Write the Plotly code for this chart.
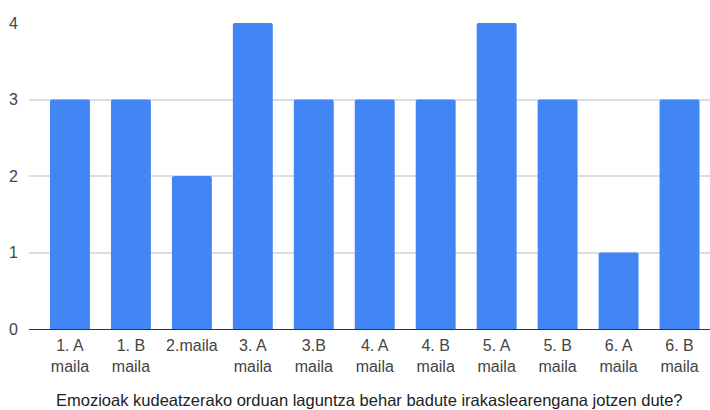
import plotly.graph_objects as go

# Class groups and counts of students
categories = ["1. A<br>maila", "1. B<br>maila", "2.maila", "3. A<br>maila", "3.B<br>maila",
              "4. A<br>maila", "4. B<br>maila", "5. A<br>maila", "5. B<br>maila",
              "6. A<br>maila", "6. B<br>maila"]
values = [3, 3, 2, 4, 3, 3, 3, 4, 3, 1, 3]
y_ticks = [0, 1, 2, 3, 4]
x_title = "Emozioak kudeatzerako orduan laguntza behar badute irakaslearengana jotzen dute?"

FONT = "Liberation Sans, Arial, sans-serif"

fig = go.Figure(
    go.Bar(
        x=list(range(len(categories))),
        y=values,
        marker=dict(color="#4285F4", line=dict(width=0)),
        width=0.655,
        hoverinfo="skip",
    )
)

fig.update_layout(
    width=710,
    height=410,
    margin=dict(l=29, r=0, t=23, b=81),
    paper_bgcolor="white",
    plot_bgcolor="white",
    showlegend=False,
    barcornerradius=2,
    font=dict(family=FONT, size=16, color="#444444"),
    xaxis=dict(
        tickmode="array",
        tickvals=list(range(len(categories))),
        ticktext=categories,
        range=[-0.672, 10.5],
        showgrid=False,
        showline=False,
        zeroline=False,
        ticks="",
        ticklabelstandoff=5,
        tickfont=dict(family=FONT, size=16, color="#444444"),
        fixedrange=True,
    ),
    yaxis=dict(
        range=[0, 4],
        tickvals=y_ticks,
        showgrid=True,
        gridcolor="#dddddd",
        gridwidth=1.5,
        zeroline=True,
        zerolinecolor="#333333",
        zerolinewidth=1.2,
        showline=False,
        ticks="",
        ticklabelstandoff=10,
        tickfont=dict(family=FONT, size=16, color="#444444"),
        fixedrange=True,
    ),
    annotations=[
        dict(
            text=x_title,
            xref="paper",
            yref="paper",
            x=0.5,
            y=-0.232,
            xanchor="center",
            yanchor="middle",
            showarrow=False,
            font=dict(family=FONT, size=16.5, color="#222222"),
        )
    ],
)

fig.write_html("out.html")
